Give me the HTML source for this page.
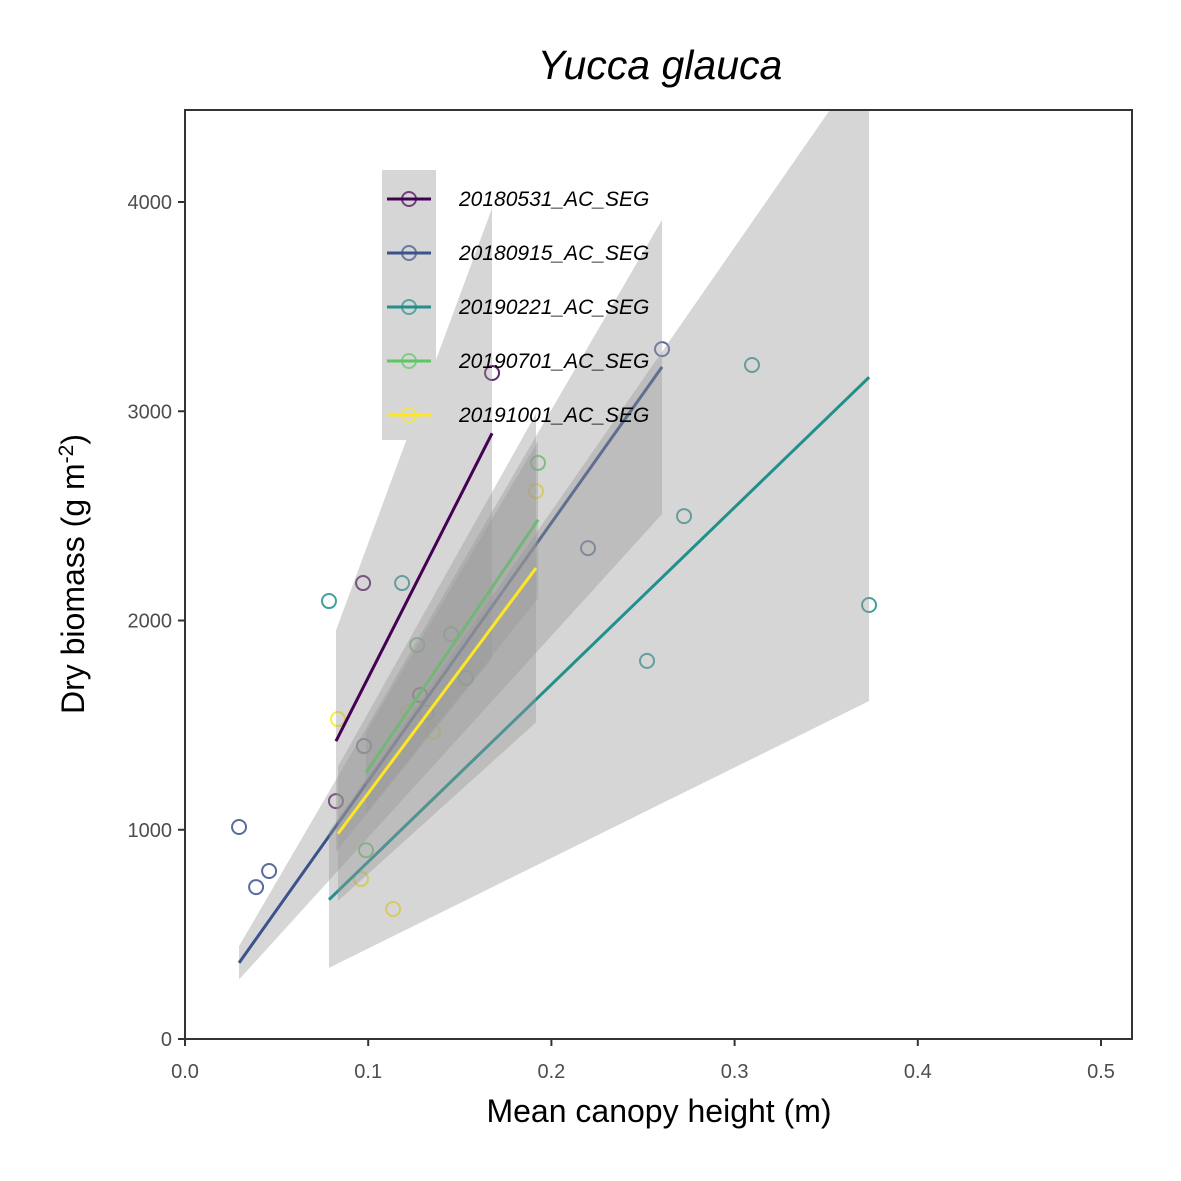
<!DOCTYPE html>
<html><head><meta charset="utf-8"><style>
html,body{margin:0;padding:0;background:#fff;}
svg{display:block;font-family:"Liberation Sans",sans-serif;}
</style></head><body>
<svg id="chart" width="1181" height="1181" viewBox="0 0 1181 1181">
<defs><clipPath id="clip"><rect x="185" y="110" width="947" height="929"/></clipPath></defs>
<rect x="0" y="0" width="1181" height="1181" fill="#fff"/>
<g id="points" clip-path="url(#clip)"></g>
<g id="fits" clip-path="url(#clip)"></g>
<g id="legend"></g>
<rect x="185" y="110" width="947" height="929" fill="none" stroke="#333" stroke-width="2"/>
<g id="axes"></g>
<text x="660" y="79" text-anchor="middle" font-size="41" font-style="italic" fill="#000">Yucca glauca</text>
<text x="659" y="1122" text-anchor="middle" font-size="32" fill="#000">Mean canopy height (m)</text>
<text transform="translate(84,574) rotate(-90)" text-anchor="middle" font-size="32" fill="#000">Dry biomass (g m<tspan baseline-shift="super" font-size="21">-2</tspan>)</text>
</svg>
<script>
const seriesNames = ["20180531_AC_SEG","20180915_AC_SEG","20190221_AC_SEG","20190701_AC_SEG","20191001_AC_SEG"];
const seriesColors = ["#440154","#3B528B","#21908C","#5DC863","#FDE725"];
const xA = [0.0972,0.0824,0.1283,0.1676];
const yA = [2179,1137,1644,3183];
const xB = [0.0295,0.0459,0.0388,0.0977,0.2200,0.2604];
const yB = [1013,803,726,1400,2346,3297];
const xC = [0.0786,0.1185,0.2522,0.2724,0.3095,0.3734];
const yC = [2093,2179,1807,2499,3221,2074];
const xD = [0.0988,0.1267,0.1452,0.1927,0.1320,0.1534];
const yD = [902,1883,1935,2753,1560,1725];
const xE = [0.0835,0.1217,0.1354,0.0961,0.1136,0.1916];
const yE = [1529,1563,1469,765,621,2618];
const xTicks = [0,0.1,0.2,0.3,0.4,0.5];
const xTickLabels = ["0.0","0.1","0.2","0.3","0.4","0.5"];
const yTicks = [0,1000,2000,3000,4000];
const yTickLabels = ["0","1000","2000","3000","4000"];

const NS="http://www.w3.org/2000/svg";
const sx = v => 185 + v*1832;
const sy = v => 1039 - v*0.20925;
function mk(tag, attrs, parent){const e=document.createElementNS(NS,tag);for(const k in attrs)e.setAttribute(k,attrs[k]);parent.appendChild(e);return e;}
const tq=[0,12.706,4.303,3.182,2.776,2.571,2.447,2.365,2.306,2.262,2.228];
const groups=[[xA,yA],[xB,yB],[xC,yC],[xD,yD],[xE,yE]];
const gp=document.getElementById('points'), gf=document.getElementById('fits');
groups.forEach((g,i)=>{
  g[0].forEach((x,j)=>{
    const c=mk('circle',{cx:sx(x),cy:sy(g[1][j]),r:7,fill:'none',stroke:seriesColors[i],'stroke-width':2,'stroke-opacity':0.85},gp);
    
    
  });
});
groups.forEach((g,i)=>{
  const xs=g[0], ys=g[1], n=xs.length;
  let sxx=0,sxy=0; for(let j=0;j<n;j++){sxx+=xs[j]*xs[j];sxy+=xs[j]*ys[j];}
  const b=sxy/sxx;
  let sse=0; for(let j=0;j<n;j++){sse+=(ys[j]-b*xs[j])**2;}
  const df=Math.max(1,n-1), s=Math.sqrt(sse/df), t=tq[Math.min(df,10)];
  const seb=s/Math.sqrt(sxx);
  const x0=Math.min(...xs), x1=Math.max(...xs);
  const bu=b+t*seb, bl=b-t*seb;
  const pts=[[x0,bu*x0],[x1,bu*x1],[x1,bl*x1],[x0,bl*x0]].map(p=>sx(p[0])+','+sy(p[1])).join(' ');
  const rib=mk('polygon',{points:pts,fill:'#999999','fill-opacity':0.4},gf);
  
  
  const l=mk('line',{x1:sx(x0),y1:sy(b*x0),x2:sx(x1),y2:sy(b*x1),stroke:seriesColors[i],'stroke-width':3},gf);
  
  
});
const ga=document.getElementById('axes');
xTicks.forEach((v,i)=>{
  const t=mk('line',{x1:sx(v),x2:sx(v),y1:1039,y2:1046,stroke:'#333','stroke-width':2},ga);
  
  
  const tx=mk('text',{x:sx(v),y:1078,'text-anchor':'middle','font-size':20,fill:'#4d4d4d'},ga);
  tx.textContent=xTickLabels[i];
  
  
});
yTicks.forEach((v,i)=>{
  const t=mk('line',{x1:178,x2:185,y1:sy(v),y2:sy(v),stroke:'#333','stroke-width':2},ga);
  
  
  const tx=mk('text',{x:172,y:sy(v)+7,'text-anchor':'end','font-size':20,fill:'#4d4d4d'},ga);
  tx.textContent=yTickLabels[i];
  
  
});
const gl=document.getElementById('legend');
const lb=mk('rect',{x:382,y:170,width:54,height:270,fill:'#d6d6d6'},gl);


seriesNames.forEach((nm,i)=>{
  const y=199+54*i;
  const g=mk('g',{},gl);
  
  
  mk('line',{x1:387,x2:431,y1:y,y2:y,stroke:seriesColors[i],'stroke-width':3},g);
  mk('circle',{cx:409,cy:y,r:7,fill:'none',stroke:seriesColors[i],'stroke-width':2,'stroke-opacity':0.7},g);
  const tx=mk('text',{x:459,y:y+7,'font-size':21,'font-style':'italic',fill:'#000'},g);
  tx.textContent=nm;
});
</script>
</body></html>
